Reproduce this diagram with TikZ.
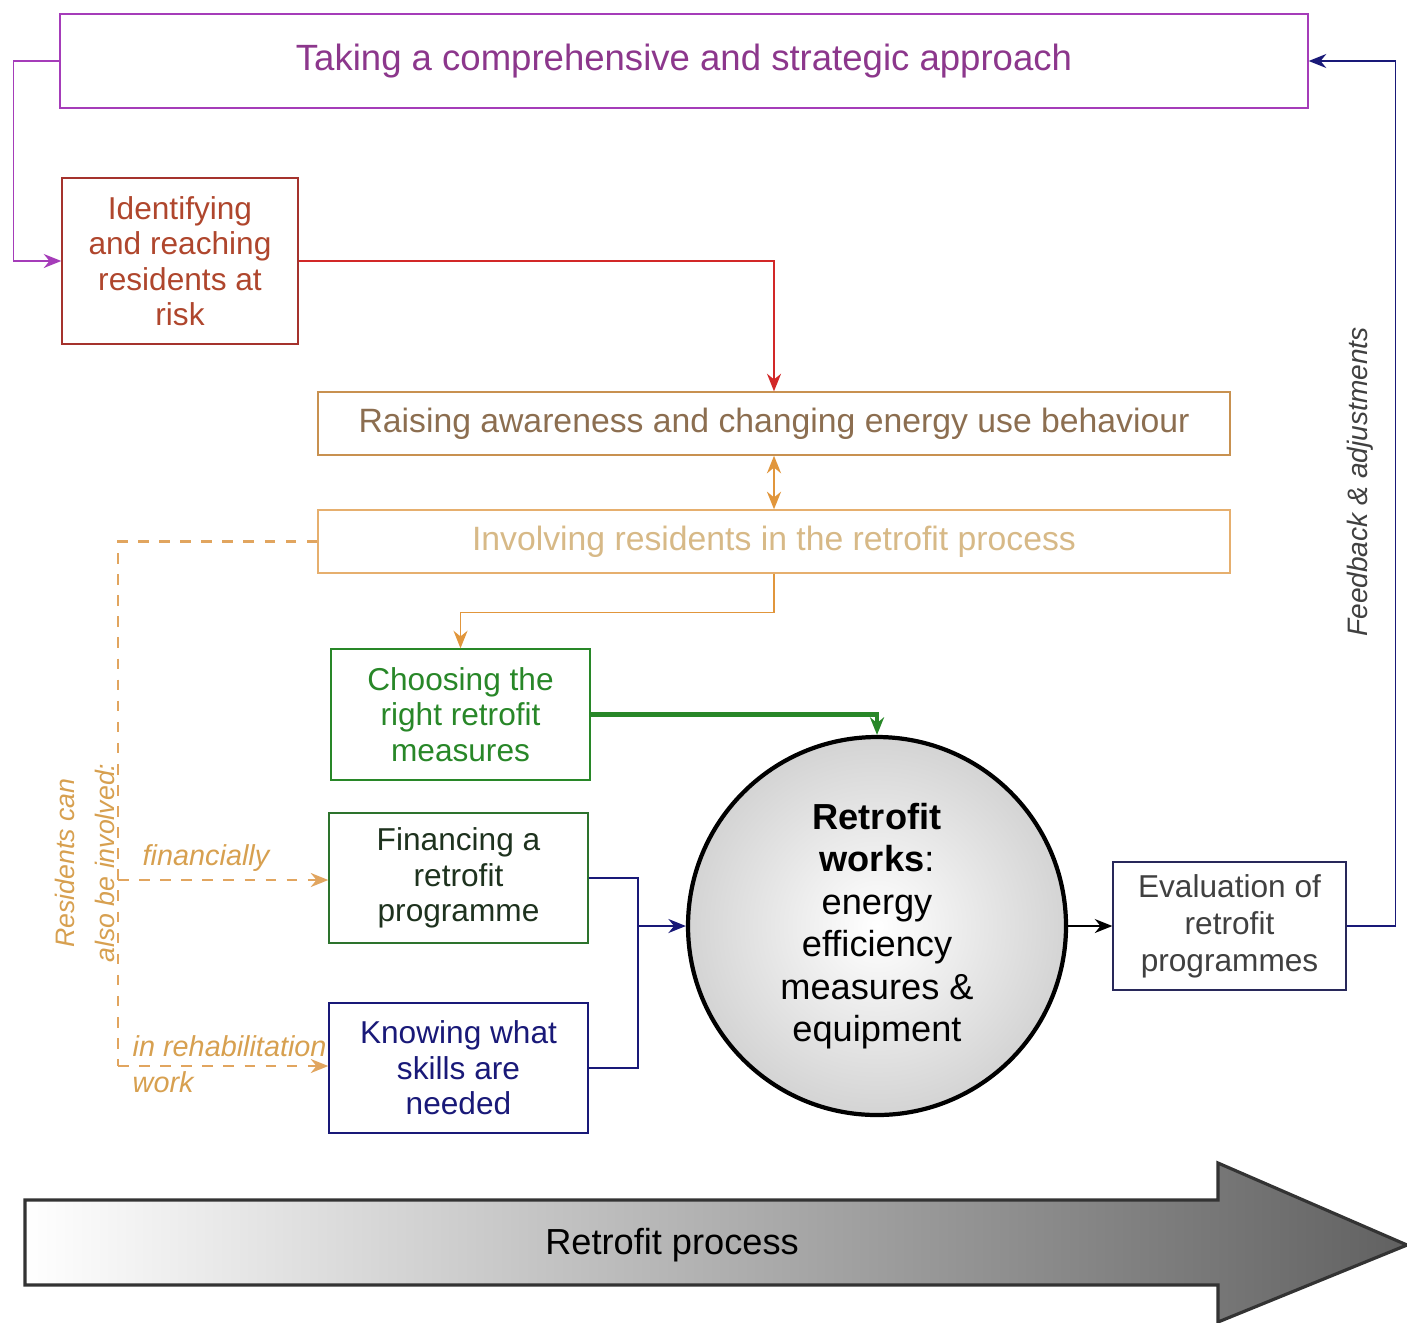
\documentclass[tikz,border=0pt]{standalone}
\usepackage{fontspec}
\setmainfont{Liberation Sans}
\usetikzlibrary{arrows.meta}

\definecolor{stratcol}{RGB}{165,60,185}
\definecolor{strattext}{RGB}{140,55,140}
\definecolor{identcol}{RGB}{165,50,45}
\definecolor{identtext}{RGB}{175,70,45}
\definecolor{identarrow}{RGB}{210,40,40}
\definecolor{raisecol}{RGB}{200,145,80}
\definecolor{raisetext}{RGB}{140,110,80}
\definecolor{invcol}{RGB}{230,175,110}
\definecolor{invtext}{RGB}{215,185,135}
\definecolor{orangearrow}{RGB}{225,150,60}
\definecolor{choosecol}{RGB}{40,135,40}
\definecolor{fincol}{RGB}{45,115,45}
\definecolor{fintext}{RGB}{30,50,30}
\definecolor{navycol}{RGB}{25,25,120}
\definecolor{evalcol}{RGB}{40,40,90}
\definecolor{resdashcol}{RGB}{225,165,95}
\definecolor{restext}{RGB}{215,160,80}

\begin{document}
\begin{tikzpicture}[
  box/.style={draw, inner sep=0pt, align=center, font=\fontsize{9}{10.1}\selectfont},
  tip/.style={-{Stealth[length=5pt,width=4pt]}},
  restip/.style={dashed, draw=resdashcol, line width=0.7pt, -{Stealth[length=5pt,width=4pt]}},
  reslabel/.style={text=restext, font=\fontsize{8.2}{10.2}\selectfont\itshape}
]
\useasboundingbox (0,0) rectangle (14.07,-13.22);

% boxes
\node[box, draw=stratcol, text=strattext, minimum width=12.48cm, minimum height=0.94cm,
  font=\fontsize{10.4}{12}\selectfont] (strat) at (6.84,-0.61) {Taking a comprehensive and strategic approach};
\node[box, draw=identcol, text=identtext, minimum width=2.36cm, minimum height=1.66cm] (ident) at (1.80,-2.61)
  {Identifying\\and reaching\\residents at\\risk};
\node[box, draw=raisecol, text=raisetext, minimum width=9.12cm, minimum height=0.63cm,
  font=\fontsize{9.6}{11}\selectfont] (raise) at (7.74,-4.235) {Raising awareness and changing energy use behaviour};
\node[box, draw=invcol, text=invtext, minimum width=9.12cm, minimum height=0.63cm,
  font=\fontsize{9.6}{11}\selectfont] (inv) at (7.74,-5.415) {Involving residents in the retrofit process};
\node[box, draw=choosecol, text=choosecol, minimum width=2.59cm, minimum height=1.31cm] (choose) at (4.605,-7.145)
  {Choosing the\\right retrofit\\measures};
\node[box, draw=fincol, text=fintext, minimum width=2.59cm, minimum height=1.30cm] (fin) at (4.585,-8.78)
  {Financing a\\retrofit\\programme};
\node[box, draw=navycol, text=navycol, minimum width=2.59cm, minimum height=1.30cm] (know) at (4.585,-10.68)
  {Knowing what\\skills are\\needed};
\node[circle, draw, line width=1.2pt, inner sep=0pt, minimum size=3.78cm, align=center,
  inner color=white, outer color=black!17, font=\fontsize{10.3}{12.1}\selectfont] (works) at (8.77,-9.26)
  {\textbf{Retrofit}\\\textbf{works}:\\energy\\efficiency\\measures \&\\equipment};
\node[box, draw=evalcol, text=black!75, minimum width=2.33cm, minimum height=1.28cm,
  font=\fontsize{9}{10.5}\selectfont] (eval) at (12.295,-9.26) {Evaluation of\\retrofit\\programmes};

% connectors
\draw[stratcol, tip] (strat.west) -- ++(-0.46,0) |- (ident.west);
\draw[identarrow, tip] (ident.east) -| (raise.north);
\draw[orangearrow, line width=0.7pt, {Stealth[length=5pt,width=4pt]}-{Stealth[length=5pt,width=4pt]}] (raise.south) -- (inv.north);
\draw[orangearrow, tip] (inv.south) -- ++(0,-0.39) -| (choose.north);
\draw[choosecol, line width=1.3pt, tip] (choose.east) -| (works.north);
\coordinate (join) at (6.38,-9.26);
\draw[navycol] (fin.east) -| (join);
\draw[navycol] (know.east) -| (join);
\draw[navycol, tip] (join) -- (works.west);
\draw[tip] (works.east) -- (eval.west);
\draw[navycol, tip] (eval.east) -- ++(0.49,0) |- (strat.east);
\node[rotate=90, text=black!75, font=\fontsize{8}{10}\selectfont\itshape] (fbnote) at (13.60,-4.82) {Feedback \& adjustments};

% residents can be involved
\coordinate (dmid) at (1.18,-8.80);
\coordinate (dbot) at (1.18,-10.66);
\draw[dashed, draw=resdashcol, line width=0.7pt] (inv.west) -| (dbot);
\draw[restip] (dmid) -- (fin.west |- dmid);
\draw[restip] (dbot) -- (know.west |- dbot);
\node[reslabel] (financially) at (2.06,-8.58) {financially};
\node[reslabel, anchor=west, align=left, inner sep=0pt] (rehab) at (1.32,-10.64) {in rehabilitation\\work};
\node[rotate=90, align=center, text=restext, font=\fontsize{7.6}{11.4}\selectfont\itshape] (resnote) at (0.85,-8.63)
  {Residents can\\also be involved:};

% process arrow
\shade[left color=white, middle color=black!17, right color=black!62] (0.25,-12.00) -- (12.18,-12.00) -- (12.18,-11.63)
  -- (14.07,-12.45) -- (12.18,-13.22) -- (12.18,-12.85) -- (0.25,-12.85) -- cycle;
\draw[black!80, line width=0.9pt] (0.25,-12.00) -- (12.18,-12.00) -- (12.18,-11.63) -- (14.07,-12.45)
  -- (12.18,-13.22) -- (12.18,-12.85) -- (0.25,-12.85) -- cycle;
\node[font=\fontsize{10.3}{12}\selectfont] (procname) at (6.72,-12.45) {Retrofit process};
\end{tikzpicture}
\end{document}
